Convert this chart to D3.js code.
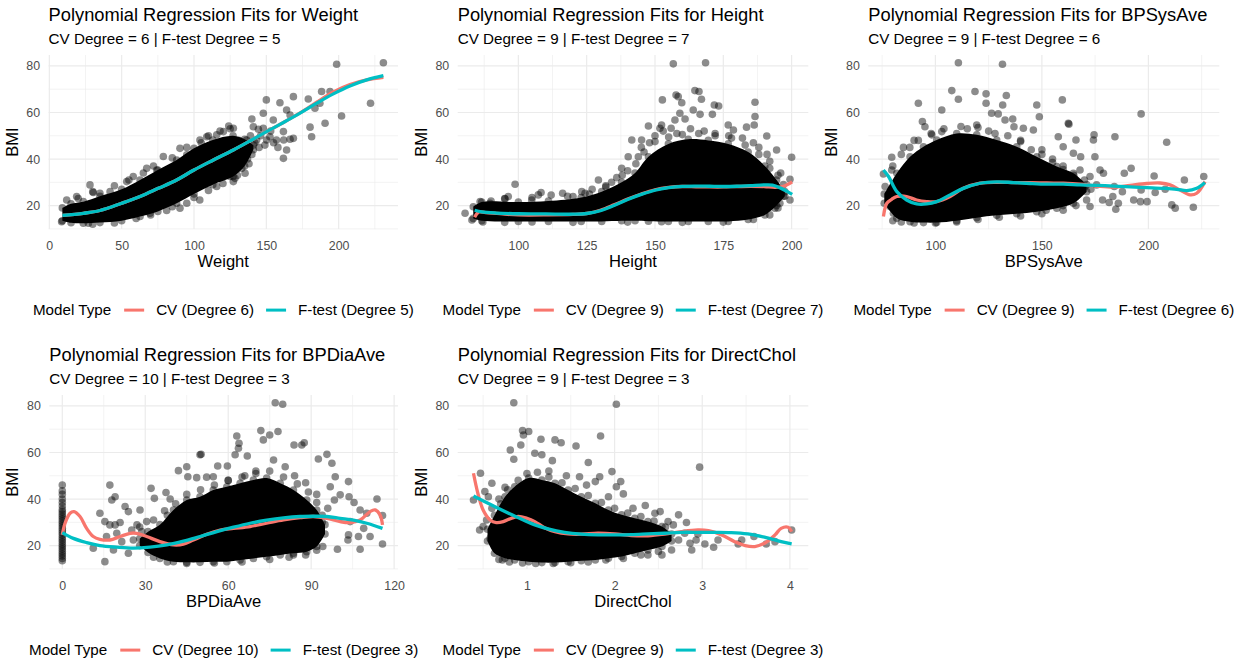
<!DOCTYPE html>
<html>
<head>
<meta charset="utf-8">
<script src="https://cdn.jsdelivr.net/npm/d3@7"></script>
<style>
body { margin: 0; background: #fff; }
text { font-family: "Liberation Sans", Arial, Helvetica, sans-serif; }
</style>
</head>
<body>
<svg id="chart" width="1244" height="663"></svg>
<script>
// ---- data ----
const variables = ['Weight', 'Height', 'BPSysAve', 'BPDiaAve', 'DirectChol'];
const cvDegrees = [6, 9, 9, 10, 9];
const fDegrees = [5, 7, 6, 3, 3];

const yTicks = [20, 40, 60, 80];
const yMinor = [10, 30, 50, 70];

const weightTicks = [0, 50, 100, 150, 200];
const weightMinor = [25, 75, 125, 175, 225];
const heightTicks = [100, 125, 150, 175, 200];
const heightMinor = [87.5, 112.5, 137.5, 162.5, 187.5];
const sysTicks = [100, 150, 200];
const sysMinor = [75, 125, 175, 225];
const diaTicks = [0, 30, 60, 90, 120];
const diaMinor = [15, 45, 75, 105];
const cholTicks = [1, 2, 3, 4];
const cholMinor = [0.5, 1.5, 2.5, 3.5];

// dense cloud envelope: [x, lowest BMI, highest BMI]
const weightCore = [[9, 13.5, 19], [15, 12.6, 20.8], [23.5, 12.4, 21.7], [35, 12.7, 24], [50, 13.5, 27],
  [62.7, 15.3, 31], [75, 17.5, 35.3], [88, 21, 39.6], [100, 25, 44.6], [113, 29, 48.2], [127, 32.5, 50],
  [135, 37, 48.5], [141, 44, 46]];
const heightCore = [[83.5, 14.5, 19.5], [86.6, 13.5, 21.5], [100, 13.2, 21.5], [111, 13.2, 22], [123, 13.2, 23.5],
  [130.5, 13.2, 26], [137.8, 13.5, 30], [142.7, 13.5, 34], [147.6, 13.3, 41], [154.9, 13.2, 46.5], [162.2, 13.2, 48.5],
  [169.5, 13.2, 48], [176.8, 13.2, 46.5], [184.1, 14, 43], [190.2, 16, 37], [194.5, 20, 31], [197.5, 24, 26]];
const sysCore = [[76, 21, 25], [81.9, 14.6, 33.9], [88.1, 13.1, 41], [94.4, 12.7, 45.3], [100.6, 12.7, 48.2],
  [110, 13.5, 51], [119.4, 14.8, 50.4], [128.8, 15.8, 48.2], [138.2, 16.5, 45.3], [147.6, 17.4, 41],
  [157, 18.9, 36.8], [164.8, 21, 33.9], [171, 26, 29]];
const diaCore = [[28, 20, 23], [31, 17, 26], [35.3, 14.5, 29], [40.2, 13.1, 35.3], [45, 12.8, 39.6], [49.8, 12.8, 41],
  [54.6, 13.1, 43.9], [59.5, 13.1, 45.3], [64.3, 13.8, 46.8], [69.1, 14.5, 48.2], [73.9, 15.2, 49],
  [78.8, 16, 46.8], [83.6, 16.7, 43.9], [88.4, 17.4, 39.6], [92, 19.6, 35.3], [95, 25, 29]];
const cholCore = [[0.55, 22, 27], [0.63, 16.7, 33], [0.75, 14.6, 41], [0.86, 13.8, 45.3], [1.02, 13.1, 49],
  [1.17, 12.7, 48.2], [1.32, 12.7, 46.8], [1.47, 13.1, 43.9], [1.62, 13.5, 41], [1.78, 13.8, 38.2],
  [1.93, 14.6, 35.3], [2.08, 15.3, 33.2], [2.23, 16.7, 31.7], [2.38, 18.1, 30.3], [2.54, 19.6, 28.2],
  [2.65, 22, 25]];

// individual points outside the dense cloud: [x, BMI]
const weightPoints = [[140, 57.2], [150, 65.4], [159.4, 64.2], [168.7, 66.8], [164, 61.1], [179, 65.8], [183.6, 61.8],
  [180.2, 53.7], [181.3, 49.6], [190.6, 55.4], [187, 64], [188.2, 69], [194, 69], [198.6, 80.7], [230.9, 81.4],
  [222, 64], [202, 58.5], [154.8, 56.8], [147.9, 59.7], [147.9, 53.2], [161.8, 51.8], [166.4, 58.9], [168.7, 48.9],
  [166.4, 48.5], [162, 48.2], [161.8, 40.3], [164, 43.9], [157, 48.2], [152.5, 49.6], [150.2, 48.2], [144.5, 52.8],
  [141, 53.9], [143.3, 48.2], [136.4, 48.2], [127.2, 53.2], [124, 54.2], [120.3, 51.8], [115.7, 50.4], [124.9, 32.5],
  [128.3, 31.7], [108.8, 49.6], [104.1, 48.2], [95, 41.8], [90.3, 44.6], [78.8, 41.1], [74.2, 35.3], [67.3, 36],
  [58, 32.5], [53.5, 30.3], [42, 26], [35, 25.3], [28.1, 28.9], [30.4, 25.6], [18.9, 23.9], [12, 22.4], [27, 12.4],
  [8.5, 13.1], [90.3, 18.9], [69.6, 16.7], [81.1, 17.9], [95, 21], [104, 22.4], [115.7, 28.2], [127.2, 30.3],
  [135.3, 33.9], [138, 45], [140, 42], [142, 47], [145, 45], [137, 40], [133, 36], [146, 50], [149, 46], [155, 47],
  [153, 52], [158, 45], [132, 44], [139, 50], [131, 48],
  [20, 23], [30, 26], [45, 28.5], [55, 31], [65, 34], [72, 37], [85, 40.5], [95, 45], [105, 47], [110, 50],
  [118, 52], [125, 53], [30, 12], [45, 12.5], [60, 14.5], [70, 16], [85, 19.5], [100, 23.5], [110, 26.5],
  [120, 29.5], [130, 33], [138, 38]];
const heightPoints = [[156.7, 80.9], [168.5, 81.4], [157.7, 67.5], [158.5, 66.8], [152.7, 65.4], [164.6, 69.4],
  [166.1, 69], [167, 65.7], [171.7, 63.2], [173.3, 62.8], [171, 59.2], [166.5, 59.2], [164, 61.1], [159.8, 64.2],
  [159.1, 59.7], [157.3, 56.8], [155.9, 53.2], [152.4, 54.6], [147.6, 54.2], [151.8, 53.2], [161, 57.2],
  [186.6, 64.4], [186.6, 58.3], [186.3, 54.6], [183.5, 53.7], [176.8, 54.6], [178.7, 52.5], [190.9, 49.9],
  [194.5, 43.9], [200, 40.8], [199.4, 31.3], [199.4, 22.4], [195.7, 21], [190.2, 17.9], [140.2, 41], [137.8, 36],
  [141.5, 48.2], [145.1, 48.2], [143.9, 41], [129.3, 31], [134.1, 30], [98.8, 29.2], [108.3, 25.6], [107.3, 24.6],
  [116.2, 25.3], [96.3, 23.9], [95.1, 22.9], [104.9, 22.4], [86, 21.7], [89.6, 21], [123.2, 26], [124.4, 25.3],
  [120, 23.9], [80.5, 16.7], [83, 13.8], [152.4, 13.1], [184.1, 16.7], [193.9, 18.9], [150, 50], [153, 52],
  [158, 51], [163, 53], [168, 52], [172, 51], [177, 50], [182, 49], [186, 47], [188, 45], [191, 42], [145, 45],
  [148, 47], [192, 39], [196, 34], [197, 24], [138, 33], [132, 28], [127, 27],
  [90, 22], [95, 23], [105, 23.5], [112, 24.5], [118, 24], [126, 25], [132, 28.5], [136, 32], [140, 35], [143, 38],
  [146, 43], [150, 47.5], [155, 49.5], [160, 50.5], [166, 51], [172, 50], [178, 49], [183, 46], [188, 42],
  [192, 36], [195, 33], [197, 29], [87, 13], [95, 12.8], [105, 13], [120, 12.8], [140, 12.9], [160, 12.8],
  [175, 12.9], [186, 14], [192, 16], [195, 19]];
const sysPoints = [[110.8, 81.4], [131.5, 80.7], [107.7, 69.4], [110.8, 65.7], [118.6, 69], [123.8, 68], [123.8, 64],
  [133.3, 67.3], [131.6, 63.2], [92, 64], [103, 61.1], [126.4, 59.7], [129.5, 59.4], [136.3, 57.2], [132.7, 56.8],
  [159.6, 65.4], [147.6, 63.2], [148.8, 58.2], [93.9, 56.1], [95.1, 53.9], [98.3, 50.4], [103, 51.8], [119.4, 54.6],
  [136.9, 53.9], [141.3, 53.2], [146, 52.5], [162.4, 55.4], [162.7, 55], [157.7, 49.6], [160, 45.3], [166, 48.2],
  [174.5, 50.4], [184.3, 49.6], [196.6, 59.4], [208.6, 47.2], [174.2, 48.2], [168.2, 41], [164.8, 42.5],
  [174.9, 41], [167.9, 35.3], [172.6, 32.5], [177.3, 35.3], [178.9, 33.9], [175.7, 28.9], [184, 28.2],
  [183.3, 23.9], [178.5, 22.4], [181.6, 21.3], [184.7, 18.4], [187.8, 26], [188.7, 33.9], [191.9, 36],
  [196.6, 26.7], [193.1, 22.4], [196.3, 21.7], [199.4, 21.7], [202.7, 32.7], [203.2, 25.6], [207.9, 27],
  [211, 20.3], [212.6, 18.9], [216.9, 31], [221.1, 19.3], [226, 32.5], [185.9, 21], [172.6, 19.6], [171, 22.4],
  [75.6, 33.6], [79.5, 40.8], [79.5, 35.3], [76.4, 28.2], [78.7, 19.6], [80.3, 16.7], [115, 53], [125, 52],
  [140, 48], [150, 44], [155, 40], [160, 37], [170, 28], [166, 24], [160, 20], [152, 18], [85, 45], [90, 48],
  [80, 37], [84, 42], [88, 45], [92, 48], [98, 51], [104, 53], [112, 54], [120, 53.5], [128, 51], [134, 50],
  [140, 47.5], [145, 44], [150, 42], [155, 38.5], [160, 35.5], [165, 33], [80, 13.5], [84, 13], [90, 12.5],
  [100, 12.5], [110, 13], [120, 14], [130, 15], [140, 15.5], [150, 16.5], [160, 18], [166, 20], [168, 26],
  [170, 31], [173, 27]];
const diaPoints = [[77, 81.4], [79.7, 80.7], [71.8, 69.4], [75, 67.5], [78, 69], [72.7, 65.4], [63.1, 67.1],
  [63.9, 64], [63.7, 61.8], [62.5, 59], [66.9, 58.5], [50.2, 59.2], [83.8, 63.2], [87.5, 64.2], [86.6, 63.2],
  [76.4, 56.8], [80.6, 53.9], [92.6, 57.2], [95.7, 59.2], [97.5, 55.4], [98.7, 49.6], [103.5, 47.5], [96.9, 45.3],
  [100.5, 41.8], [103.7, 41], [98.4, 39.6], [105.5, 38.5], [113.8, 40], [107.7, 35.3], [110.1, 33.9],
  [115.8, 32.9], [104.1, 30.3], [109, 27.4], [103.5, 24.6], [103.3, 22.4], [107.1, 23.9], [99.5, 18.4],
  [107.7, 18.4], [115.8, 20.7], [111.3, 23.9], [94.2, 19.6], [83.6, 16], [17.2, 46], [17.9, 39.6], [19.1, 41],
  [22.7, 36.8], [23.9, 34.6], [28.1, 35.3], [32.1, 44.6], [33.3, 40.3], [37.5, 42.8], [39, 40], [42, 52.2],
  [45, 53.9], [49.8, 59], [45.4, 49.6], [48.6, 49.2], [52.2, 49.4], [54.6, 49.6], [56.2, 54.2], [59.7, 54.2],
  [13.6, 33.9], [15.4, 30.3], [17.2, 28.9], [19.1, 28.9], [20.9, 29.9], [19.7, 25.3], [16, 23.9], [11.2, 18.9],
  [15.4, 13.1], [18.5, 18.1], [23.9, 16.7], [25.7, 22.4], [28.7, 26], [27, 28.9], [30.5, 30.3], [32.3, 18.9],
  [34.1, 23.1], [25.1, 26.7], [21.5, 21.7], [94, 30], [96, 36], [92, 42], [88, 47], [84, 50], [70, 52], [66, 50],
  [60, 48], [38, 33], [36, 21],
  [28, 28], [33, 31], [37, 35], [41, 38], [45, 42], [50, 44], [55, 46], [60, 48], [65, 49.5], [70, 51], [75, 52],
  [80, 49.5], [85, 46.5], [89, 43], [92, 38.5], [94, 33], [33, 15], [38, 13], [45, 12.3], [55, 12.5], [65, 13],
  [75, 14], [82, 15], [88, 16], [92, 18],
  [0, 13.5], [0, 14.5], [0, 15.5], [0, 16.5], [0, 17.5], [0, 18.5], [0, 19.5], [0, 20.5], [0, 21.5], [0, 22.5],
  [0, 23.5], [0, 24.5], [0, 25.5], [0, 26.5], [0, 27.5], [0, 28.5], [0, 29.5], [0, 30.5], [0, 31.5], [0, 32.5],
  [0, 33.5], [0, 34.5], [0, 35.5], [0, 37], [0, 38.5], [0, 40], [0, 42], [0, 43.5], [0, 46]];
const cholPoints = [[0.85, 81.4], [2.02, 80.7], [0.95, 69.4], [1.02, 69], [0.96, 67.5], [1.16, 65.7], [1.32, 65.4],
  [1.39, 64.2], [1.56, 62.8], [1.84, 67.1], [0.81, 61.1], [0.93, 63.2], [0.85, 57.1], [1.09, 59.7], [1.17, 59],
  [1.29, 56.5], [1.7, 55.7], [2.97, 53.7], [0.47, 51.1], [0.39, 39.6], [0.52, 43.2], [0.6, 46.8], [0.56, 41],
  [0.46, 26.7], [0.5, 28.2], [1.83, 49.6], [1.97, 51.8], [2.07, 47.5], [2.1, 42.2], [2.02, 45.3], [1.93, 41],
  [1.6, 49.6], [1.68, 46], [1.78, 47.5], [2.21, 36], [2.35, 37.2], [2.46, 33.9], [2.52, 34.6], [2.61, 30.3],
  [2.73, 33.2], [2.67, 28.9], [2.82, 29.9], [2.8, 25.3], [2.73, 22.4], [2.65, 18.1], [2.88, 18.1], [2.86, 21],
  [2.93, 22.4], [3.03, 20.7], [3.13, 19.3], [3.18, 22.4], [3.41, 20.7], [3.45, 22.4], [3.59, 23.9], [3.73, 20.7],
  [3.83, 21.7], [4.02, 26.7], [2.54, 16], [2.38, 16], [0.72, 13.8], [0.65, 20.3], [0.58, 23.1], [0.54, 31],
  [2.95, 25], [1.25, 52], [1.45, 50], [0.75, 45], [0.7, 38], [2.3, 27], [2.45, 22], [2.6, 25], [2.2, 18],
  [0.6, 36], [0.68, 40], [0.78, 44], [0.9, 48], [1.0, 51], [1.12, 51.5], [1.25, 49.5], [1.4, 47], [1.55, 44.5],
  [1.7, 41.5], [1.85, 38.5], [2.0, 36], [2.15, 34], [2.3, 32.5], [2.45, 30.5], [2.58, 28], [0.68, 14], [0.8, 13],
  [0.95, 12.5], [1.1, 12.3], [1.3, 12.3], [1.5, 12.6], [1.7, 13], [1.9, 13.8], [2.1, 14.5], [2.3, 16], [2.5, 17.5]];

// fitted curves: [x, predicted BMI]
const weightCV = [[9, 15.8], [23.5, 16.7], [35, 17.9], [50, 21], [62.7, 23.9], [75.3, 27.4], [88, 31], [100, 35.3],
  [113.4, 39.6], [127.2, 43.9], [139.9, 48.2], [150.2, 51.8], [161.8, 55.7], [173.3, 59.8], [184.8, 64.4],
  [196.3, 68.8], [207.8, 72], [219.4, 74], [230.9, 75.1]];
const weightF = [[9, 15.8], [23.5, 16.7], [35, 17.9], [50, 21], [62.7, 23.9], [75.3, 27.4], [88, 31], [100, 35.3],
  [113.4, 39.6], [127.2, 43.9], [139.9, 48.2], [150.2, 51.8], [161.8, 55.7], [173.3, 59.7], [184.8, 64],
  [196.3, 68], [207.8, 71.4], [219.4, 74], [230.9, 75.8]];
const heightCV = [[84, 15], [85.5, 17.2], [88, 17], [95, 16.3], [100, 16], [110, 16], [120, 16.2], [125, 16.6],
  [130, 18], [135, 20.3], [140, 22.8], [145, 25], [150, 26.8], [155, 27.8], [160, 28.2], [165, 28.1], [170, 28],
  [175, 28], [180, 28.2], [185, 28.3], [190, 28.2], [194, 27.8], [197, 28.3], [200.2, 30.2]];
const heightF = [[84, 18], [86.6, 17.3], [92, 16.8], [100, 16.5], [110, 16.4], [120, 16.3], [125, 16.6],
  [130, 17.8], [135, 20], [140, 22.6], [145, 24.8], [150, 26.6], [155, 27.7], [160, 28.3], [165, 28.4],
  [170, 28.3], [175, 28.2], [180, 28.3], [185, 28.6], [190, 28.9], [193, 28.8], [196, 27.5], [198.5, 26],
  [200.2, 24.8]];
const sysCV = [[75.6, 15.3], [77.2, 21], [79.5, 22.7], [81.9, 23.9], [86.5, 23.9], [91.2, 22.4], [95.9, 21.7],
  [100.6, 21.7], [106.9, 23.9], [113.1, 27.4], [121, 29.6], [128.8, 30], [136.6, 29.9], [144.4, 29.9],
  [152.3, 29.7], [160.1, 29.6], [167.9, 29.2], [175.7, 28.4], [183.6, 27.9], [191.4, 28.7], [199.2, 29.5],
  [205.5, 29.7], [210.2, 28.9], [214.9, 26.7], [219.6, 24.6], [222.7, 25.3], [226.6, 30.3]];
const sysF = [[75.6, 35.3], [78, 32.5], [81.9, 26], [86.5, 22.4], [91.2, 20.7], [95.9, 20.7], [100.6, 21.7],
  [106.9, 24.6], [113.1, 27.4], [121, 29.6], [128.8, 30.2], [136.6, 29.9], [144.4, 29.5], [152.3, 29.2],
  [160.1, 29.2], [167.9, 28.9], [175.7, 28.7], [183.6, 28.4], [191.4, 28], [199.2, 27.7], [207, 27.4],
  [213.3, 27], [218, 26.4], [222.7, 27.4], [226.6, 29.9]];
const diaCV = [[0, 24.6], [1, 29.6], [2.8, 33.9], [4.2, 34.6], [6.4, 32.5], [8.8, 27.4], [11.2, 23.9], [13.6, 22.7],
  [17.2, 22.4], [20.9, 23.9], [24.5, 25.3], [26.9, 25.3], [30.5, 23.9], [35.3, 21.7], [40.2, 20.3], [43.8, 20.6],
  [47.4, 22.4], [52.2, 24.9], [57.1, 26.7], [61.9, 27.4], [67.9, 28.2], [73.9, 29.6], [80, 31], [86, 32],
  [90.8, 32.5], [95.7, 31.7], [100.5, 30.3], [104.1, 29.9], [107.7, 31], [111.3, 34.6], [113.1, 35.3],
  [114.9, 33.2], [115.8, 28.9]];
const diaF = [[0, 25.6], [4, 23.1], [8.8, 21.3], [13.6, 20], [19.7, 19.3], [25.7, 18.9], [31.7, 19.3], [37.8, 20.3],
  [43.8, 21.9], [49.8, 23.9], [55.9, 26], [61.9, 27.9], [67.9, 29.6], [73.9, 30.9], [80, 31.9], [86, 32.5],
  [90.8, 32.6], [95.7, 32.5], [100.5, 31.7], [105.3, 30.9], [110.1, 29.6], [115.8, 27.4]];
const cholCV = [[0.39, 51.1], [0.44, 42.5], [0.5, 35.3], [0.58, 31], [0.65, 29.9], [0.73, 30.3], [0.82, 31.7],
  [0.9, 32.5], [1, 31.7], [1.09, 30.3], [1.2, 27.7], [1.32, 26], [1.47, 25], [1.62, 24.9], [1.81, 25.3], [2, 25],
  [2.19, 24.3], [2.38, 24.2], [2.57, 24.9], [2.76, 26], [2.95, 26.7], [3.07, 26.4], [3.22, 24.6], [3.37, 21.7],
  [3.49, 20], [3.6, 19.6], [3.71, 21], [3.83, 24.6], [3.9, 27.4], [3.98, 27.9], [4.02, 26]];
const cholF = [[0.39, 41.3], [0.48, 39.6], [0.63, 36.8], [0.79, 33.9], [0.94, 31.3], [1.09, 28.9], [1.24, 27.2],
  [1.43, 25.7], [1.62, 24.9], [1.81, 24.6], [2, 24.6], [2.19, 24.7], [2.38, 25], [2.57, 25.3], [2.76, 25.7],
  [2.95, 25.7], [3.14, 25.7], [3.33, 25.6], [3.52, 25], [3.71, 23.6], [3.9, 21.7], [4.02, 20.7]];

// ---- layout ----
const RED = '#F8766D';
const TEAL = '#00BFC4';
const GRID = '#EBEBEB';
const Y_DOMAIN = [9.9, 84.7];

const panels = [
  { box: [48.6, 398, 55, 229.1], xDomain: [-0.5, 241], ticks: weightTicks, minor: weightMinor,
    core: weightCore, points: weightPoints, cv: weightCV, f: weightF },
  { box: [457.7, 808.3, 55, 229.1], xDomain: [77.8, 206.1], ticks: heightTicks, minor: heightMinor,
    core: heightCore, points: heightPoints, cv: heightCV, f: heightF },
  { box: [868.3, 1219.3, 55, 229.1], xDomain: [68.5, 233.3], ticks: sysTicks, minor: sysMinor,
    core: sysCore, points: sysPoints, cv: sysCV, f: sysF },
  { box: [49.3, 398, 395, 569.1], xDomain: [-4.7, 121.4], ticks: diaTicks, minor: diaMinor,
    core: diaCore, points: diaPoints, cv: diaCV, f: diaF },
  { box: [457.7, 808.3, 395, 569.1], xDomain: [0.21, 4.21], ticks: cholTicks, minor: cholMinor,
    core: cholCore, points: cholPoints, cv: cholCV, f: cholF }
];

const svg = d3.select('#chart');

const drawPanel = (p, i) => {
  const [x0, x1, y0, y1] = p.box;
  const x = d3.scaleLinear().domain(p.xDomain).range([x0, x1]);
  const y = d3.scaleLinear().domain(Y_DOMAIN).range([y1, y0]);
  const g = svg.append('g');

  // clip to panel
  g.append('clipPath').attr('id', 'clip' + i)
    .append('rect').attr('x', x0).attr('y', y0).attr('width', x1 - x0).attr('height', y1 - y0);

  // grid: minor first, then major
  const grid = g.append('g');
  grid.selectAll('.hmin').data(yMinor).join('line')
    .attr('x1', x0).attr('x2', x1).attr('y1', d => y(d)).attr('y2', d => y(d))
    .attr('stroke', GRID).attr('stroke-width', 0.6);
  grid.selectAll('.vmin').data(p.minor).join('line')
    .attr('x1', d => x(d)).attr('x2', d => x(d)).attr('y1', y0).attr('y2', y1)
    .attr('stroke', GRID).attr('stroke-width', 0.6);
  grid.selectAll('.hmaj').data(yTicks).join('line')
    .attr('x1', x0).attr('x2', x1).attr('y1', d => y(d)).attr('y2', d => y(d))
    .attr('stroke', GRID).attr('stroke-width', 1.2);
  grid.selectAll('.vmaj').data(p.ticks).join('line')
    .attr('x1', d => x(d)).attr('x2', d => x(d)).attr('y1', y0).attr('y2', y1)
    .attr('stroke', GRID).attr('stroke-width', 1.2);

  // axes (labels only, as in theme_minimal)
  const xAxis = g.append('g').attr('transform', `translate(0,${y1})`)
    .call(d3.axisBottom(x).tickValues(p.ticks).tickSize(0).tickPadding(12).tickFormat(d3.format('')));
  const yAxis = g.append('g').attr('transform', `translate(${x0},0)`)
    .call(d3.axisLeft(y).tickValues(yTicks).tickSize(0).tickPadding(8.5));
  [xAxis, yAxis].forEach(a => {
    a.select('.domain').remove();
    a.selectAll('text').attr('fill', '#4D4D4D').style('font-size', '12.4px')
      .style('font-family', '"Liberation Sans", Arial, sans-serif');
  });

  const plot = g.append('g').attr('clip-path', `url(#clip${i})`);

  // dense core of overlapping points
  plot.append('path').datum(p.core)
    .attr('d', d3.area().x(d => x(d[0])).y0(d => y(d[1])).y1(d => y(d[2])).curve(d3.curveCatmullRom))
    .attr('fill', '#000');
  const edge = p.core.flatMap(d => [[d[0], d[1]], [d[0], d[2]]]);
  plot.selectAll('.edge').data(edge).join('circle')
    .attr('cx', d => x(d[0])).attr('cy', d => y(d[1])).attr('r', 3.8)
    .attr('fill', '#000').attr('fill-opacity', 0.45);
  plot.selectAll('.pt').data(p.points).join('circle')
    .attr('cx', d => x(d[0])).attr('cy', d => y(d[1])).attr('r', 3.8)
    .attr('fill', '#000').attr('fill-opacity', 0.45);

  // fitted lines
  const line = d3.line().x(d => x(d[0])).y(d => y(d[1])).curve(d3.curveCatmullRom.alpha(0.5));
  plot.append('path').datum(p.cv).attr('d', line)
    .attr('fill', 'none').attr('stroke', RED).attr('stroke-width', 3.3).attr('stroke-linecap', 'butt');
  plot.append('path').datum(p.f).attr('d', line)
    .attr('fill', 'none').attr('stroke', TEAL).attr('stroke-width', 3.3).attr('stroke-linecap', 'butt');

  // titles
  g.append('text').attr('x', x0).attr('y', y0 - 34).style('font-size', '18.3px').attr('fill', '#000')
    .text('Polynomial Regression Fits for ' + variables[i]);
  g.append('text').attr('x', x0).attr('y', y0 - 11).style('font-size', '15.2px').attr('fill', '#000')
    .text(`CV Degree = ${cvDegrees[i]} | F-test Degree = ${fDegrees[i]}`);
  g.append('text').attr('x', (x0 + x1) / 2).attr('y', y1 + 38).attr('text-anchor', 'middle')
    .style('font-size', '16.6px').attr('fill', '#000').text(variables[i]);
  g.append('text').attr('transform', `translate(${x0 - 31},${(y0 + y1) / 2}) rotate(-90)`)
    .attr('text-anchor', 'middle').style('font-size', '16.6px').attr('fill', '#000').text('BMI');

  drawLegend(g, (x0 + x1) / 2, y1 + 81, i);
};

const drawLegend = (g, cx, cy, i) => {
  const lg = g.append('g');
  const title = lg.append('text').attr('y', cy + 5.3).style('font-size', '15.2px').text('Model Type');
  const labels = [`CV (Degree ${cvDegrees[i]})`, `F-test (Degree ${fDegrees[i]})`];
  const colors = [RED, TEAL];
  const texts = labels.map(l => lg.append('text').attr('y', cy + 5.3).style('font-size', '15.2px').text(l));
  const tw = title.node().getComputedTextLength();
  const lw = texts.map(t => t.node().getComputedTextLength());
  const KEY = 20, GAP_T = 13, GAP_K = 12, GAP_L = 12;
  const total = tw + GAP_T + KEY + GAP_K + lw[0] + GAP_L + KEY + GAP_K + lw[1];
  let cur = cx - total / 2;
  title.attr('x', cur);
  cur += tw + GAP_T;
  texts.forEach((t, k) => {
    lg.append('line').attr('x1', cur).attr('x2', cur + KEY).attr('y1', cy).attr('y2', cy)
      .attr('stroke', colors[k]).attr('stroke-width', 3);
    cur += KEY + GAP_K;
    t.attr('x', cur);
    cur += lw[k] + GAP_L;
  });
};

panels.forEach(drawPanel);
</script>
</body>
</html>
